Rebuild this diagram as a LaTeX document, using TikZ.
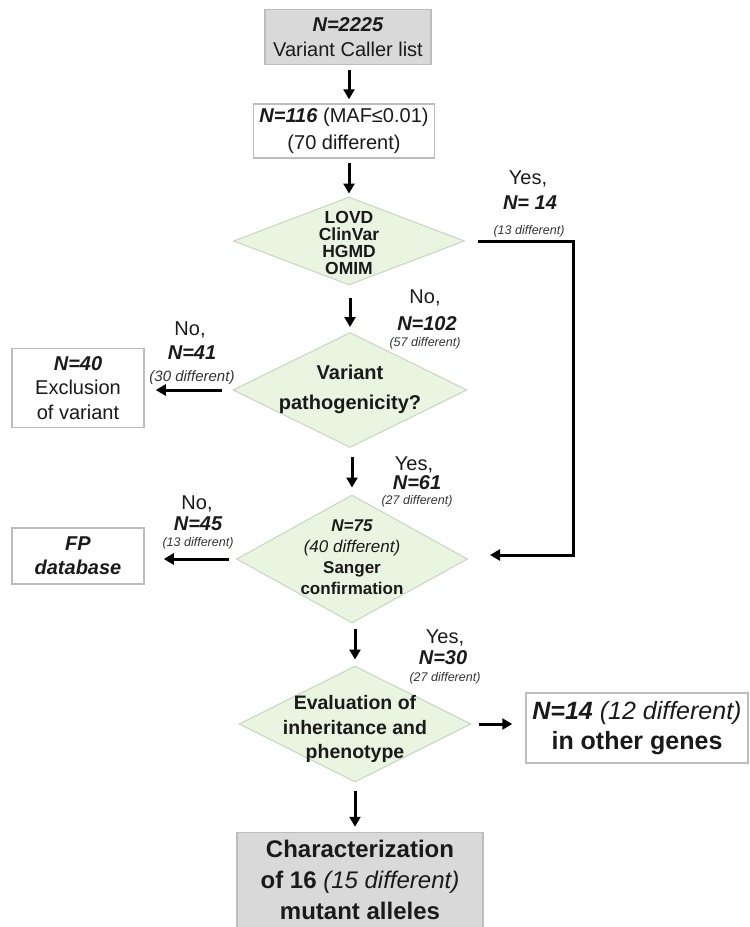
\documentclass[tikz,border=0pt]{standalone}
\usepackage{fontspec}
\setmainfont{Liberation Sans}
\usetikzlibrary{shapes.geometric,arrows.meta,calc}
\definecolor{txt}{HTML}{1A1A1A}
\definecolor{smtxt}{HTML}{333333}
\definecolor{boxgray}{HTML}{D9D9D9}
\definecolor{boxline}{HTML}{BDBDBD}
\definecolor{dfill}{HTML}{E9F5E1}
\definecolor{dline}{HTML}{C6D6BD}
\tikzset{
  rbox/.style={draw=boxline, line width=1.5pt, inner sep=0pt, align=center, text=txt},
  grbox/.style={rbox, fill=boxgray},
  wbox/.style={rbox, fill=white},
  dia/.style={diamond, draw=dline, fill=dfill, line width=1pt, inner sep=0pt},
  tx/.style={inner sep=0pt, align=center, text=txt},
  reg/.style={tx, font=\fontsize{20}{24}\selectfont},
  bi/.style={tx, font=\bfseries\itshape\fontsize{20}{24}\selectfont},
  sm/.style={inner sep=0pt, text=smtxt, font=\itshape\fontsize{12.5}{14}\selectfont},
  arr/.style={line width=3pt, draw=black, -{Triangle[length=10pt,width=11pt]}},
  ln/.style={line width=3pt, draw=black}
}
\newcommand{\bin}[1]{\textbf{\textit{#1}}}
\begin{document}
\begin{tikzpicture}[x=1pt,y=-1pt]
\useasboundingbox (0,0) rectangle (750,927);
% boxes
\node[grbox, minimum width=166pt, minimum height=55pt, font=\fontsize{20}{25}\selectfont] (b1) at (348,37) {\bin{N=2225}\\Variant Caller list};
\node[wbox, minimum width=181pt, minimum height=54pt, font=\fontsize{20}{27}\selectfont] (b2) at (344,131) {\bin{N=116} (MAF≤0.01)\\(70 different)};
% diamonds
\node[dia, minimum width=231pt, minimum height=88pt] (d1) at (349,241) {};
\node[tx, font=\bfseries\fontsize{17.5}{17}\selectfont] (d1t) at (349,243) {LOVD\\ClinVar\\HGMD\\OMIM};
\node[dia, minimum width=234pt, minimum height=115pt] (d2) at (350,390) {};
\node[tx, font=\bfseries\fontsize{20}{30}\selectfont] (d2t) at (350,389) {Variant\\pathogenicity?};
\node[dia, minimum width=231pt, minimum height=128pt] (d3) at (352,559) {};
\node[tx, font=\fontsize{17}{21}\selectfont] (d3t) at (352,557) {\bin{N=75}\\\textit{(40 different)}\\\textbf{Sanger}\\\textbf{confirmation}};
\node[dia, minimum width=232pt, minimum height=116pt] (d4) at (355,724) {};
\node[tx, font=\bfseries\fontsize{19.5}{24.5}\selectfont] (d4t) at (355,729) {Evaluation of\\inheritance and\\phenotype};
% side boxes
\node[wbox, minimum width=132pt, minimum height=79pt, font=\fontsize{20}{24.5}\selectfont] (ex) at (78,388) {\bin{N=40}\\Exclusion\\of variant};
\node[wbox, minimum width=132pt, minimum height=56pt, font=\bfseries\itshape\fontsize{20}{24}\selectfont] (fp) at (78,556) {FP\\database};
\node[wbox, minimum width=222pt, minimum height=70pt, font=\fontsize{25}{30}\selectfont] (og) at (637,728) {\bin{N=14} \textit{(12 different)}\\\textbf{in other genes}};
\node[grbox, minimum width=246pt, minimum height=95pt, font=\bfseries\fontsize{24}{31}\selectfont] (fin) at (360,880) {Characterization\\of 16 \textmd{\textit{(15 different)}}\\mutant alleles};
% labels
\node[reg] (y1a) at (528,179) {Yes,};
\node[bi] (y1b) at (530,203) {N= 14};
\node[sm] (y1c) at (529,231) {(13 different)};
\node[reg] (n1a) at (425,298) {No,};
\node[bi] (n1b) at (427,324) {N=102};
\node[sm] (n1c) at (425,343) {(57 different)};
\node[reg] (n2a) at (190,330) {No,};
\node[bi] (n2b) at (192,353) {N=41};
\node[sm, font=\itshape\fontsize{15}{17}\selectfont] (n2c) at (192,378) {(30 different)};
\node[reg] (y2a) at (414,465) {Yes,};
\node[bi] (y2b) at (417,483) {N=61};
\node[sm] (y2c) at (417,501) {(27 different)};
\node[reg] (n3a) at (197,504) {No,};
\node[bi] (n3b) at (198,524) {N=45};
\node[sm] (n3c) at (198,543) {(13 different)};
\node[reg] (y3a) at (445,638) {Yes,};
\node[bi] (y3b) at (443,658) {N=30};
\node[sm] (y3c) at (445,678) {(27 different)};
% arrows
\coordinate (yc) at (573,241);
\draw[arr, shorten <=5pt, shorten >=4pt] (b1.south -| 349,0) -- (b2.north -| 349,0);
\draw[arr, shorten <=4pt, shorten >=3pt] (b2.south -| d1.south) -- (d1.north);
\draw[arr, shorten <=12pt, shorten >=5pt] (d1.south -| d2.north) -- (d2.north);
\draw[arr, shorten <=9pt, shorten >=7pt] (d2.south -| d3.north) -- (d3.north);
\draw[arr, shorten <=5pt, shorten >=6pt] (d3.south -| d4.north) -- (d4.north);
\draw[arr, shorten <=8pt, shorten >=5pt] (d4.south) -- (d4.south |- fin.north);
\draw[arr, shorten <=11pt, shorten >=11pt] (d2.west) -- (d2.west -| ex.east);
\draw[arr, shorten <=7pt, shorten >=19pt] (d3.west) -- (d3.west -| fp.east);
\draw[arr, shorten <=7pt, shorten >=13pt] (d4.east) -- (d4.east -| og.west);
\draw[arr, shorten <=13pt, shorten >=22pt] (d1.east) -- (yc) |- ([yshift=4pt]d3.east);
\end{tikzpicture}
\end{document}
